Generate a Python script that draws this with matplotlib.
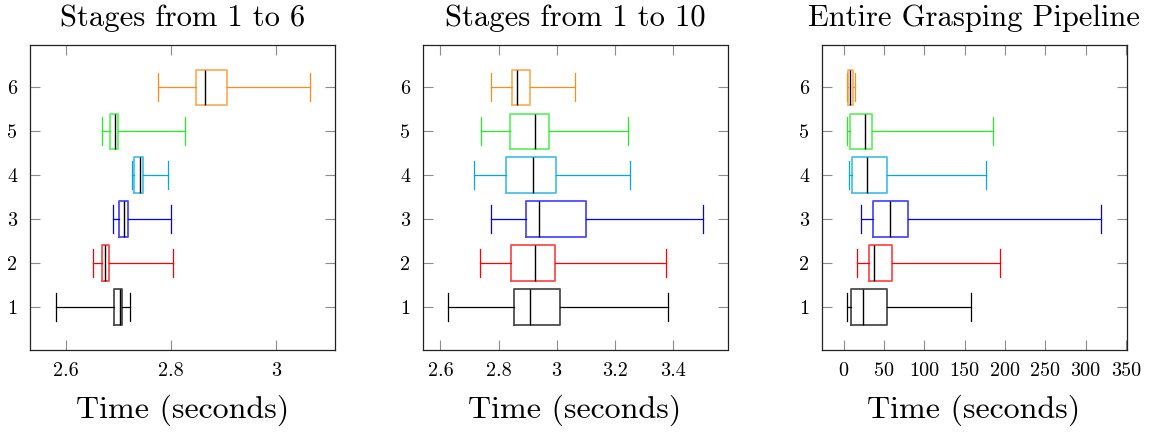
import matplotlib
matplotlib.use("Agg")
import matplotlib.pyplot as plt
from matplotlib.ticker import FuncFormatter, FixedLocator

plt.rcParams["font.family"] = ["cmr10", "DejaVu Serif"]
plt.rcParams["axes.formatter.use_mathtext"] = True

# Stage indices (one box per stage row)
stages = [1, 2, 3, 4, 5, 6]
stage_colors = ["#000000", "#FF0000", "#0000FF", "#00A8E8", "#22EE22", "#FF8C1A"]

# Stages 1-6: lower whisker, Q1, median, Q3, upper whisker
s6_lo = [2.580, 2.651, 2.690, 2.725, 2.669, 2.775]
s6_q1 = [2.691, 2.668, 2.700, 2.730, 2.683, 2.847]
s6_med = [2.702, 2.674, 2.711, 2.741, 2.694, 2.865]
s6_q3 = [2.707, 2.681, 2.718, 2.747, 2.698, 2.907]
s6_hi = [2.721, 2.804, 2.801, 2.795, 2.826, 3.065]

# Stages 1-10
s10_lo = [2.625, 2.735, 2.773, 2.714, 2.740, 2.775]
s10_q1 = [2.854, 2.844, 2.894, 2.827, 2.838, 2.848]
s10_med = [2.907, 2.927, 2.941, 2.920, 2.924, 2.865]
s10_q3 = [3.011, 2.993, 3.100, 2.999, 2.975, 2.907]
s10_hi = [3.383, 3.377, 3.504, 3.254, 3.245, 3.065]

# Entire grasping pipeline
gp_lo = [4.1, 16.9, 21.5, 6.2, 4.1, 4.5]
gp_q1 = [9.5, 31.4, 36.0, 10.3, 7.9, 6.0]
gp_med = [23.6, 38.4, 57.9, 29.3, 26.4, 8.0]
gp_q3 = [53.7, 59.5, 79.8, 53.3, 35.5, 11.5]
gp_hi = [157.9, 193.8, 319.8, 176.9, 185.1, 14.0]

titles = ["Stages from 1 to 6", "Stages from 1 to 10", "Entire Grasping Pipeline"]
xlabel = "Time (seconds)"
xticks_list = [[2.6, 2.8, 3.0],
               [2.6, 2.8, 3.0, 3.2, 3.4],
               [0, 50, 100, 150, 200, 250, 300, 350]]
xlims = [(2.531, 3.113), (2.538, 3.589), (-27.3, 350.8)]

panels = [
    (s6_lo, s6_q1, s6_med, s6_q3, s6_hi),
    (s10_lo, s10_q1, s10_med, s10_q3, s10_hi),
    (gp_lo, gp_q1, gp_med, gp_q3, gp_hi),
]

W, H = 1149, 432
fig = plt.figure(figsize=(W / 100, H / 100), dpi=100)
lefts = [30, 422.5, 821.5]
ax_w, ax_b, ax_h = 305, 82, 305.5

for i, (lo, q1, med, q3, hi) in enumerate(panels):
    ax = fig.add_axes([lefts[i] / W, ax_b / H, ax_w / W, ax_h / H])
    for k, s in enumerate(stages):
        st = [dict(whislo=lo[k], q1=q1[k], med=med[k], q3=q3[k], whishi=hi[k], fliers=[])]
        c = stage_colors[k]
        ax.bxp(st, positions=[s], widths=0.8, capwidths=0.64,
               orientation="horizontal", showfliers=False, patch_artist=False,
               boxprops=dict(color=c, linewidth=1.3, alpha=0.7),
               whiskerprops=dict(color=c, linewidth=0.9),
               capprops=dict(color=c, linewidth=0.9),
               medianprops=dict(color="black", linewidth=1.0),
               manage_ticks=False)
    ax.set_xlim(*xlims[i])
    ax.set_ylim(0.02, 6.97)
    ax.yaxis.set_major_locator(FixedLocator(stages))
    ax.xaxis.set_major_locator(FixedLocator(xticks_list[i]))
    ax.xaxis.set_major_formatter(FuncFormatter(lambda v, p: "%g" % v))
    ax.yaxis.set_major_formatter(FuncFormatter(lambda v, p: "%d" % v))
    ax.tick_params(axis="both", which="major", direction="in", length=7.5,
                   width=0.8, color="#8c8c8c", labelsize=14.5, pad=9,
                   top=True, right=True)
    for sp in ax.spines.values():
        sp.set_linewidth(0.9)
        sp.set_color("#222222")
    ax.set_title(titles[i], fontsize=22, pad=13.5)
    ax.set_xlabel(xlabel, fontsize=23, labelpad=10)

fig.savefig("out.png", dpi=100)
